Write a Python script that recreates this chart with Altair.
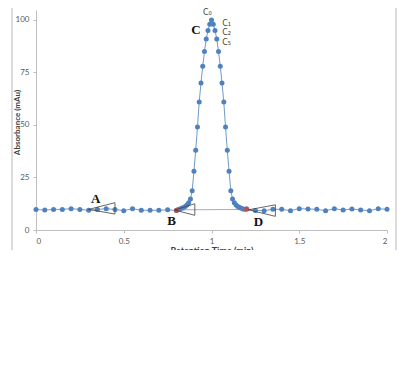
import altair as alt
import pandas as pd

# ---- data ----
base_left_x = [0.0, 0.05, 0.10, 0.15, 0.20, 0.25, 0.30, 0.35, 0.40, 0.45, 0.50, 0.55, 0.60, 0.65, 0.70, 0.75]
base_left_y = [9.8, 9.5, 9.8, 9.8, 10.15, 9.8, 9.4, 9.8, 10.15, 9.8, 9.2, 10.15, 9.4, 9.4, 9.4, 9.6]

peak_x = [0.80, 0.81, 0.82, 0.83, 0.84, 0.85, 0.86, 0.87, 0.88, 0.89, 0.90, 0.91, 0.92, 0.93, 0.94,
          0.95, 0.96, 0.97, 0.98, 0.99, 1.00, 1.01, 1.02, 1.03, 1.04, 1.05, 1.06, 1.07, 1.08, 1.09,
          1.10, 1.11, 1.12, 1.13, 1.14, 1.15, 1.16, 1.17, 1.18, 1.19, 1.20]
peak_y = [9.3, 9.8, 10.0, 10.3, 10.7, 11.2, 11.9, 13.0, 14.8, 18.7, 28, 38, 49, 61, 70,
          78, 85, 91, 95, 98, 100, 98, 95, 91, 85, 78, 70, 61, 49, 38,
          28, 18.7, 14.8, 13.0, 11.9, 11.2, 10.7, 10.3, 10.0, 9.9, 10.0]

base_right_x = [1.25, 1.30, 1.35, 1.40, 1.45, 1.50, 1.55, 1.60, 1.65, 1.70, 1.75, 1.80, 1.85, 1.90, 1.95, 2.00]
base_right_y = [9.3, 9.2, 9.85, 9.85, 9.2, 10.15, 10.0, 9.85, 9.2, 10.15, 9.5, 10.0, 9.5, 9.2, 10.15, 9.85]

red_x = [0.80, 1.20]
red_y = [9.3, 10.0]

# baseline connector B -> D
conn_x = [0.80, 1.20]
conn_y = [9.6, 9.8]

# cone shapes (group, x, y)
cone_group = ["A"] * 4 + ["B"] * 4 + ["D"] * 4
cone_x = [0.30, 0.45, 0.45, 0.30,
          0.79, 0.905, 0.905, 0.79,
          1.21, 1.364, 1.364, 1.21]
cone_y = [9.8, 13.0, 7.6, 9.8,
          9.5, 12.5, 7.0, 9.5,
          9.6, 12.0, 6.5, 9.6]

letter_text = ["A", "B", "C", "D"]
letter_x = [0.34, 0.773, 0.912, 1.267]
letter_y = [14.7, 4.1, 95.2, 3.6]

c_text = ["C\u2080", "C\u2081", "C\u2082", "C\u2085"]
c_x = [0.976, 1.086, 1.086, 1.086]
c_y = [103.3, 97.9, 93.7, 88.9]

x_ticks = [0, 0.5, 1, 1.5, 2]
y_ticks = [0, 25, 50, 75, 100]
y_max = 104.76

# ---- tables ----
all_x = base_left_x + peak_x + base_right_x
all_y = base_left_y + peak_y + base_right_y
df = pd.DataFrame({"t": all_x, "a": all_y})
df_red = pd.DataFrame({"t": red_x, "a": red_y})
df_conn = pd.DataFrame({"t": conn_x, "a": conn_y})
df_cone = pd.DataFrame({"g": cone_group, "t": cone_x, "a": cone_y, "o": list(range(len(cone_x)))})
df_let = pd.DataFrame({"s": letter_text, "t": letter_x, "a": letter_y})
df_c = pd.DataFrame({"s": c_text, "t": c_x, "a": c_y})

BLUE = "#4F81BD"
FONT = "Lato"

xs = alt.Scale(domain=[0, 2], nice=False, zero=False)
ys = alt.Scale(domain=[0, y_max], nice=False)

x_axis = alt.Axis(values=x_ticks, grid=False, title="Retention Time (min)",
                  labelFontSize=8, labelColor="#595959", labelFont=FONT,
                  tickColor="#bfbfbf", domainColor="#bfbfbf", tickSize=3, labelPadding=4,
                  titleFont=FONT, titleFontSize=9, titleFontWeight="bold", titleColor="#404040",
                  titleBaseline="alphabetic", titleY=23, zindex=0, format="~g")
y_axis = alt.Axis(values=y_ticks, grid=False, title="Absorbance (mAu)",
                  labelFontSize=8, labelColor="#595959", labelFont=FONT,
                  tickColor="#bfbfbf", domainColor="#bfbfbf", tickSize=3, labelPadding=4,
                  titleFont=FONT, titleFontSize=8, titleFontWeight="bold", titleColor="#404040",
                  titleAngle=-90, titleAlign="center", titleBaseline="middle",
                  titleX=-19, titleY=112, zindex=0)

X = alt.X("t:Q", scale=xs, axis=x_axis)
Y = alt.Y("a:Q", scale=ys, axis=y_axis)

line = alt.Chart(df).mark_line(color=BLUE, strokeWidth=1, opacity=0.8).encode(x=X, y=Y, order="t:Q")
pts = alt.Chart(df).mark_circle(color=BLUE, size=25, opacity=1).encode(x="t:Q", y="a:Q")
conn = alt.Chart(df_conn).mark_line(color="#b9a0cf", strokeWidth=1).encode(x="t:Q", y="a:Q")
red = alt.Chart(df_red).mark_circle(color="#C0504D", size=25, opacity=1).encode(x="t:Q", y="a:Q")
cones = alt.Chart(df_cone).mark_line(color="#404040", strokeWidth=0.8).encode(
    x="t:Q", y="a:Q", detail="g:N", order="o:Q")
letters = alt.Chart(df_let).mark_text(font="Liberation Serif", fontWeight="bold", fontSize=13,
                                      color="#111111").encode(x="t:Q", y="a:Q", text="s:N")
clabels = alt.Chart(df_c).mark_text(font="DejaVu Sans", fontSize=8, color="#404040").encode(
    x="t:Q", y="a:Q", text="s:N")

cover = alt.Chart(df_red).mark_rect(color="white", opacity=1).encode(
    x=alt.value(-40), x2=alt.value(400), y=alt.value(240), y2=alt.value(340))
frame_top = alt.Chart(df_red).mark_rule(color="#d0d0d0", strokeWidth=1).encode(
    x=alt.value(-24), x2=alt.value(360), y=alt.value(-5))
frame_left = alt.Chart(df_red).mark_rule(color="#d0d0d0", strokeWidth=1).encode(
    x=alt.value(-24), y=alt.value(-5), y2=alt.value(240))
frame_right = alt.Chart(df_red).mark_rule(color="#d0d0d0", strokeWidth=1).encode(
    x=alt.value(360), y=alt.value(-5), y2=alt.value(240))

chart = alt.layer(line, conn, pts, red, cones, letters, clabels, cover,
                  frame_top, frame_left, frame_right).properties(
    width=351, height=220,
    autosize=alt.AutoSizeParams(type="none"),
    padding={"left": 28, "top": 2, "right": 10, "bottom": 110},
    background="white",
).configure_view(stroke=None)

chart.save("out.html", embed_options={"renderer": "svg", "actions": False})
